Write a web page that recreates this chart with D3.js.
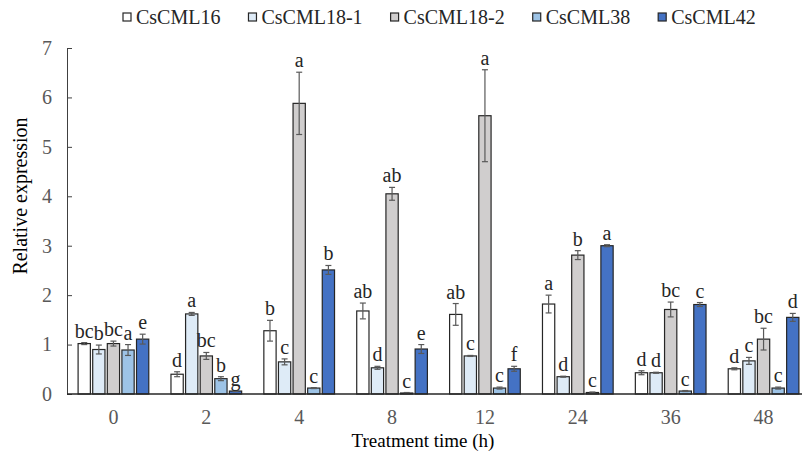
<!DOCTYPE html>
<html lang="en">
<head>
<meta charset="UTF-8">
<title>Relative expression</title>
<script src="https://d3js.org/d3.v7.min.js"></script>
<style>
  body { margin: 0; background: #fff; }
  svg { display: block; font-family: "Liberation Serif", "Times New Roman", serif; }
</style>
</head>
<body>
<svg id="chart" width="802" height="458"></svg>
<script>
// time points (h)
const times = ["0", "2", "4", "8", "12", "24", "36", "48"];
const seriesNames = ["CsCML16", "CsCML18-1", "CsCML18-2", "CsCML38", "CsCML42"];
const seriesColors = ["#ffffff", "#deebf7", "#d0cece", "#9dc3e6", "#4472c4"];

// mean values per gene
const cml16 = [1.02, 0.40, 1.28, 1.68, 1.61, 1.82, 0.43, 0.51];
const cml18_1 = [0.90, 1.62, 0.65, 0.53, 0.77, 0.35, 0.43, 0.67];
const cml18_2 = [1.02, 0.77, 5.88, 4.05, 5.63, 2.81, 1.71, 1.11];
const cml38 = [0.89, 0.31, 0.12, 0.02, 0.12, 0.03, 0.06, 0.12];
const cml42 = [1.11, 0.06, 2.51, 0.91, 0.51, 3.00, 1.81, 1.55];

// error (SD)
const err16 = [0.02, 0.05, 0.21, 0.16, 0.22, 0.18, 0.04, 0.02];
const err18_1 = [0.09, 0.03, 0.06, 0.03, 0.01, 0.01, 0.01, 0.07];
const err18_2 = [0.05, 0.07, 0.63, 0.13, 0.93, 0.09, 0.15, 0.22];
const err38 = [0.11, 0.04, 0.01, 0.01, 0.02, 0.01, 0.01, 0.02];
const err42 = [0.10, 0.01, 0.09, 0.09, 0.05, 0.02, 0.04, 0.08];

// significance letters
const sig16 = ["bc", "d", "b", "ab", "ab", "a", "d", "d"];
const sig18_1 = ["b", "a", "c", "d", "c", "d", "d", "c"];
const sig18_2 = ["bc", "bc", "a", "ab", "a", "b", "bc", "bc"];
const sig38 = ["a", "b", "c", "c", "c", "c", "c", "c"];
const sig42 = ["e", "g", "b", "e", "f", "a", "c", "d"];

const yTicks = [0, 1, 2, 3, 4, 5, 6, 7];

const values = [cml16, cml18_1, cml18_2, cml38, cml42];
const errors = [err16, err18_1, err18_2, err38, err42];
const letters = [sig16, sig18_1, sig18_2, sig38, sig42];

// flat records for drawing
const records = [];
times.forEach((t, i) => {
  seriesNames.forEach((s, j) => {
    records.push({ time: t, series: s, color: seriesColors[j],
      value: values[j][i], err: errors[j][i], sig: letters[j][i] });
  });
});

const svg = d3.select("#chart");
const plotLeft = 67, plotRight = 810, plotTop = 48, plotBottom = 394;
const serif = '"Liberation Serif", "Times New Roman", serif';

const x = d3.scaleBand().domain(times).range([plotLeft, plotRight]);
const x1 = d3.scaleBand().domain(seriesNames).range([0, x.bandwidth()])
  .paddingInner(0.16).paddingOuter(0.76);
const y = d3.scaleLinear().domain([0, 7]).range([plotBottom, plotTop]);

// y axis (ticks inward)
const yAxis = svg.append("g").attr("transform", `translate(${plotLeft},0)`)
  .call(d3.axisLeft(y).tickValues(yTicks).tickFormat(d3.format("d"))
    .tickSizeInner(-5).tickSizeOuter(0).tickPadding(15));
yAxis.attr("font-family", null).attr("font-size", null);
yAxis.select(".domain").attr("stroke", "#404040");
yAxis.selectAll(".tick line").attr("stroke", "#404040");
yAxis.selectAll("text").style("font-family", serif).style("font-size", "20px")
  .attr("fill", "#595959");

// bars
const g = svg.append("g");
g.selectAll("rect").data(records).enter().append("rect")
  .attr("x", d => x(d.time) + x1(d.series))
  .attr("width", x1.bandwidth())
  .attr("y", d => y(d.value))
  .attr("height", d => y(0) - y(d.value))
  .attr("fill", d => d.color)
  .attr("stroke", "#262626")
  .attr("stroke-width", 1.2);

// error bars
const eb = svg.append("g").attr("stroke", "#595959").attr("stroke-width", 1.2);
records.forEach(d => {
  const cx = x(d.time) + x1(d.series) + x1.bandwidth() / 2;
  const y1 = y(d.value + d.err), y2 = y(Math.max(0, d.value - d.err));
  eb.append("line").attr("x1", cx).attr("x2", cx).attr("y1", y1).attr("y2", y2);
  eb.append("line").attr("x1", cx - 3).attr("x2", cx + 3).attr("y1", y1).attr("y2", y1);
  eb.append("line").attr("x1", cx - 3).attr("x2", cx + 3).attr("y1", y2).attr("y2", y2);
});

// significance letters
svg.append("g").selectAll("text").data(records).enter().append("text")
  .attr("x", d => x(d.time) + x1(d.series) + x1.bandwidth() / 2)
  .attr("y", d => y(d.value + d.err) - 5)
  .attr("text-anchor", "middle")
  .attr("font-size", 20)
  .attr("fill", "#262626")
  .text(d => d.sig);

// x axis line
svg.append("line").attr("x1", plotLeft).attr("x2", 802)
  .attr("y1", plotBottom).attr("y2", plotBottom)
  .attr("stroke", "#262626").attr("stroke-width", 1.5);

// x tick labels
svg.append("g").selectAll("text").data(times).enter().append("text")
  .attr("x", d => x(d) + x.bandwidth() / 2)
  .attr("y", 424)
  .attr("text-anchor", "middle")
  .attr("font-size", 20)
  .attr("fill", "#595959")
  .text(d => d);

// axis titles
svg.append("text").attr("x", 423).attr("y", 447)
  .attr("text-anchor", "middle").attr("font-size", 19).attr("fill", "#000")
  .text("Treatment time (h)");
svg.append("text").attr("transform", "translate(27,196) rotate(-90)")
  .attr("text-anchor", "middle").attr("font-size", 20).attr("fill", "#000")
  .text("Relative expression");

// legend
const legend = svg.append("g");
let lx = 123;
seriesNames.forEach((s, j) => {
  legend.append("rect").attr("x", lx).attr("y", 13).attr("width", 8).attr("height", 8)
    .attr("fill", seriesColors[j]).attr("stroke", "#262626").attr("stroke-width", 1.2);
  const t = legend.append("text").attr("x", lx + 13).attr("y", 24)
    .attr("font-size", 20).attr("fill", "#262626").text(s);
  lx += 13 + t.node().getComputedTextLength() + 28;
});
</script>
</body>
</html>
